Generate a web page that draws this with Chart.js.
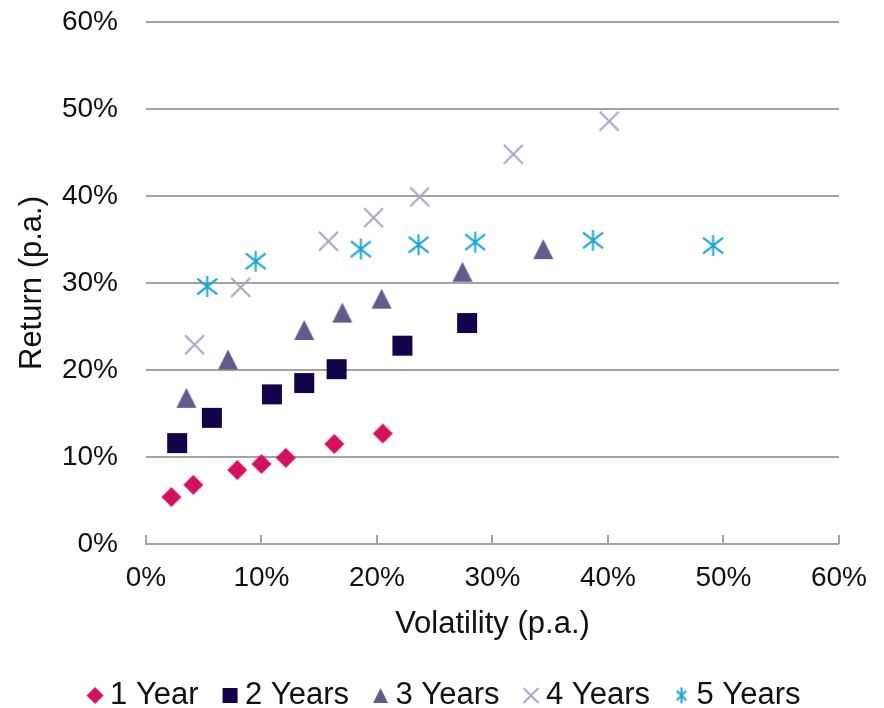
<!DOCTYPE html>
<html lang="en">
<head>
  <meta charset="UTF-8">
  <title>Return vs Volatility</title>
  <script src="https://cdn.jsdelivr.net/npm/chart.js"></script>
  <style>
    html, body { margin:0; padding:0; background:#fff; }
    #wrap { width:884px; height:708px; }
  </style>
</head>
<body>
<div id="wrap"><canvas id="riskChart"></canvas></div>

<script>
// data (percent)
const seriesNames = ['1 Year', '2 Years', '3 Years', '4 Years', '5 Years'];
const oneYearVol    = [2.2, 4.1, 7.9, 10.0, 12.1, 16.3, 20.5];
const oneYearRet    = [5.4, 6.8, 8.5, 9.2, 9.9, 11.5, 12.7];
const twoYearsVol   = [2.7, 5.7, 10.9, 13.7, 16.5, 22.2, 27.8];
const twoYearsRet   = [11.6, 14.5, 17.2, 18.5, 20.1, 22.8, 25.4];
const threeYearsVol = [3.5, 7.1, 13.7, 17.0, 20.4, 27.4, 34.4];
const threeYearsRet = [16.8, 21.2, 24.6, 26.6, 28.2, 31.3, 33.9];
const fourYearsVol  = [4.2, 8.2, 15.8, 19.7, 23.7, 31.8, 40.1];
const fourYearsRet  = [22.9, 29.5, 34.8, 37.5, 39.9, 44.8, 48.6];
const fiveYearsVol  = [5.3, 9.5, 18.6, 23.6, 28.5, 38.7, 49.1];
const fiveYearsRet  = [29.6, 32.5, 33.9, 34.4, 34.7, 34.9, 34.3];
const axisMin = 0, axisMax = 60, axisStep = 10;

const colors = ['#d6105e', '#14034b', '#635a8d', '#a9a4c3', '#17a4de'];
const kinds  = ['diamond', 'square', 'triangle', 'x', 'star'];

// draws a marker on a small canvas, used as pointStyle
// starW / starH: how far the star's slanted arms reach (fraction of half size)
function makeMarker(kind, color, size, shiftX, starW, starH) {
  shiftX = shiftX || 0;
  starW = starW || 0.95; starH = starH || 0.75;
  const pad = 3;
  const c = document.createElement('canvas');
  c.width = size + pad * 2 + Math.abs(shiftX) * 2;
  c.height = size + pad * 2;
  const g = c.getContext('2d');
  const cx = c.width / 2 + shiftX, cy = c.height / 2, h = size / 2;
  g.fillStyle = color; g.strokeStyle = color; g.lineWidth = 2;
  g.beginPath();
  if (kind === 'diamond') {
    g.moveTo(cx, cy - h); g.lineTo(cx + h, cy); g.lineTo(cx, cy + h); g.lineTo(cx - h, cy);
    g.closePath(); g.fill();
  } else if (kind === 'square') {
    g.rect(cx - h, cy - h, size, size); g.fill();
  } else if (kind === 'triangle') {
    g.moveTo(cx, cy - h); g.lineTo(cx + h, cy + h); g.lineTo(cx - h, cy + h);
    g.closePath(); g.fill();
  } else if (kind === 'x') {
    g.moveTo(cx - h, cy - h); g.lineTo(cx + h, cy + h);
    g.moveTo(cx + h, cy - h); g.lineTo(cx - h, cy + h); g.stroke();
  } else if (kind === 'star') {
    g.moveTo(cx, cy - h); g.lineTo(cx, cy + h);
    g.moveTo(cx - h * starW, cy - h * starH); g.lineTo(cx + h * starW, cy + h * starH);
    g.moveTo(cx + h * starW, cy - h * starH); g.lineTo(cx - h * starW, cy + h * starH); g.stroke();
  }
  return c;
}

const pointSizes  = [20, 20, 20, 19, 21];
const legendSizes = [17, 15, 15, 15, 16];
const pointMarkers  = kinds.map((k, i) => makeMarker(k, colors[i], pointSizes[i]));
const legendMarkers = kinds.map((k, i) => makeMarker(k, colors[i], legendSizes[i], 15, 0.6, 0.6));

function toPoints(xs, ys) { return xs.map((x, i) => ({ x: x, y: ys[i] })); }
const allVol = [oneYearVol, twoYearsVol, threeYearsVol, fourYearsVol, fiveYearsVol];
const allRet = [oneYearRet, twoYearsRet, threeYearsRet, fourYearsRet, fiveYearsRet];

const datasets = seriesNames.map((name, i) => ({
  label: name,
  data: toPoints(allVol[i], allRet[i]),
  pointStyle: pointMarkers[i],
  backgroundColor: colors[i],
  borderColor: colors[i]
}));

// small tick marks pointing up from the x axis line
const innerTicks = {
  id: 'innerTicks',
  afterDraw(chart) {
    const s = chart.scales.x, c = chart.ctx;
    c.save();
    c.strokeStyle = '#a3a3a3'; c.lineWidth = 2;
    s.ticks.forEach(t => {
      const px = Math.round(s.getPixelForValue(t.value));
      c.beginPath(); c.moveTo(px, s.top); c.lineTo(px, s.top - 9); c.stroke();
    });
    c.restore();
  }
};

const gridGray = '#a3a3a3';
const txt = '#111';
const fontFam = '"Liberation Sans", Arial, sans-serif';

new Chart(document.getElementById('riskChart'), {
  type: 'scatter',
  data: { datasets: datasets },
  plugins: [innerTicks],
  options: {
    responsive: true, maintainAspectRatio: false, animation: false,
    layout: { padding: { left: 0, right: 18, top: 22, bottom: -13 } },
    plugins: {
      tooltip: { enabled: false },
      legend: {
        position: 'bottom',
        labels: {
          usePointStyle: true, boxWidth: 29, boxHeight: 29, padding: 2,
          color: txt, font: { family: fontFam, size: 31 },
          generateLabels(chart) {
            const items = Chart.defaults.plugins.legend.labels.generateLabels(chart);
            items.forEach((it, i) => { it.pointStyle = legendMarkers[i]; });
            return items;
          }
        }
      }
    },
    scales: {
      x: {
        type: 'linear', min: axisMin, max: axisMax,
        afterFit(s) { s.height = 134; },
        ticks: { stepSize: axisStep, padding: 17, color: txt, maxRotation: 0,
                 font: { family: fontFam, size: 28 }, callback: v => v + '%' },
        grid: { display: false, drawTicks: false },
        border: { display: true, color: gridGray, width: 2 },
        title: { display: true, text: 'Volatility (p.a.)', color: txt,
                 font: { family: fontFam, size: 31 }, padding: { top: 0, bottom: 35 } }
      },
      y: {
        type: 'linear', min: axisMin, max: axisMax,
        afterFit(s) { s.width = 146; s.paddingTop = 0; s.paddingBottom = 0; },
        ticks: { stepSize: axisStep, padding: 28, color: txt,
                 font: { family: fontFam, size: 28 }, callback: v => v + '%' },
        grid: { color: gridGray, lineWidth: 2, drawTicks: false },
        border: { display: false },
        title: { display: true, text: 'Return (p.a.)', color: txt,
                 font: { family: fontFam, size: 31 }, padding: { top: 14, bottom: 0 } }
      }
    }
  }
});
</script>
</body>
</html>
